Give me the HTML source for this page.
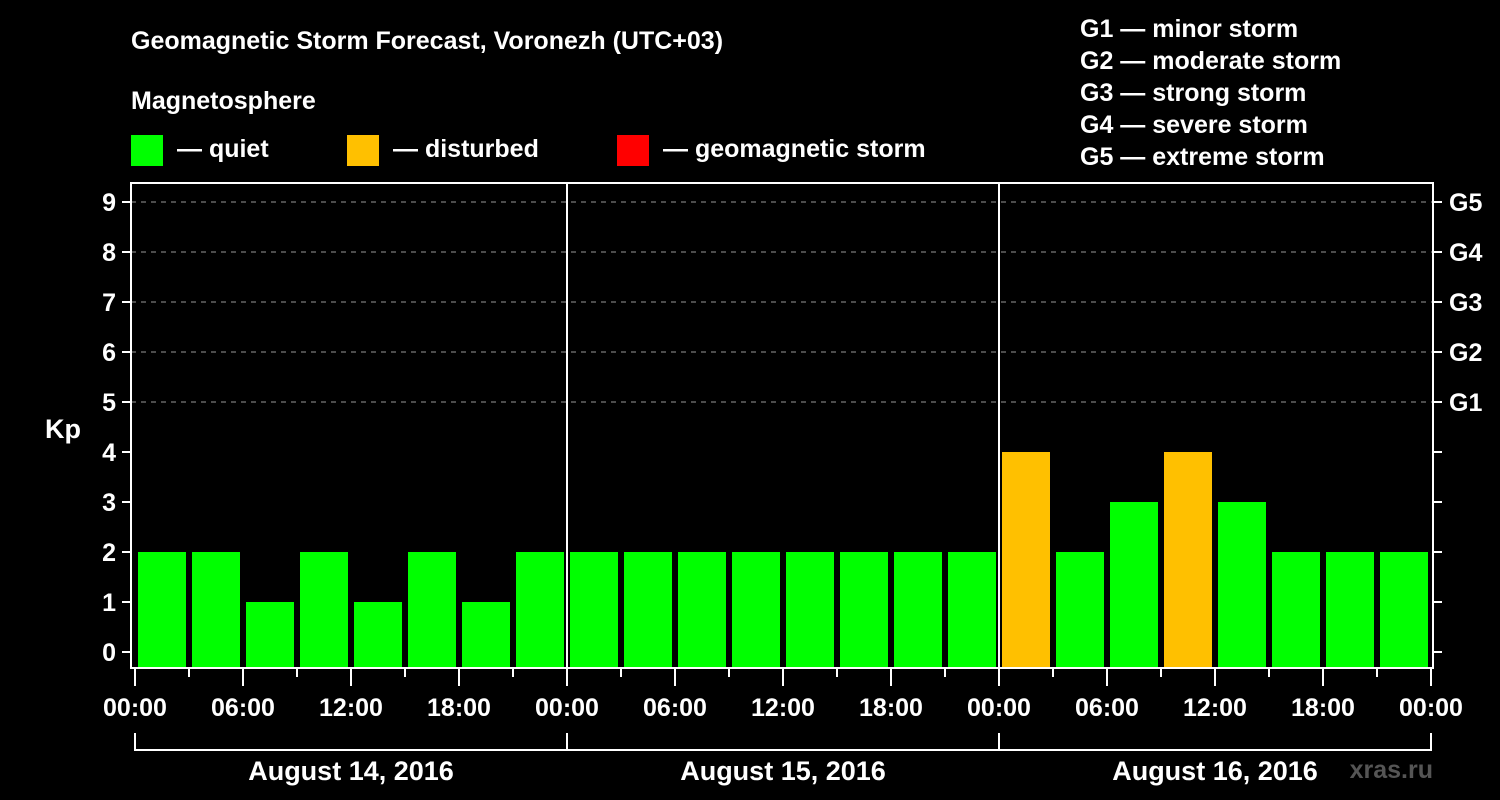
<!DOCTYPE html>
<html><head><meta charset="utf-8"><style>
html,body{margin:0;padding:0;background:#000;}
svg{display:block;font-family:"Liberation Sans",Arial,sans-serif;font-weight:bold;}
</style></head><body>
<svg id="c" width="1500" height="800" viewBox="0 0 1500 800">
<text x="131" y="49" fill="#fff" font-size="25">Geomagnetic Storm Forecast, Voronezh (UTC+03)</text>
<text x="131" y="109" fill="#fff" font-size="25">Magnetosphere</text>
<g><rect x="131" y="135" width="32" height="31" fill="#00ff00"/><text x="177" y="157" fill="#fff" font-size="25">— quiet</text></g>
<g><rect x="347" y="135" width="32" height="31" fill="#ffc000"/><text x="393" y="157" fill="#fff" font-size="25">— disturbed</text></g>
<g><rect x="617" y="135" width="32" height="31" fill="#ff0000"/><text x="663" y="157" fill="#fff" font-size="25">— geomagnetic storm</text></g>
<g fill="#fff" font-size="25">
<text x="1080" y="37">G1 — minor storm</text>
<text x="1080" y="69">G2 — moderate storm</text>
<text x="1080" y="101">G3 — strong storm</text>
<text x="1080" y="133">G4 — severe storm</text>
<text x="1080" y="165">G5 — extreme storm</text>
</g>
<text x="63" y="438" fill="#fff" font-size="27" text-anchor="middle">Kp</text>
<text x="1433" y="778" fill="#555" font-size="25" text-anchor="end">xras.ru</text>
<g id="plot"></g>
</svg>
<script>
const kpValues = [2,2,1,2,1,2,1,2, 2,2,2,2,2,2,2,2, 4,2,3,4,3,2,2,2];
const dayLabels = ["August 14, 2016","August 15, 2016","August 16, 2016"];
const hourLabels = ["00:00","06:00","12:00","18:00"];
const gLabels = ["G1","G2","G3","G4","G5"];
const yTicks = [0,1,2,3,4,5,6,7,8,9];

const NS="http://www.w3.org/2000/svg";
const g=document.getElementById('plot');
const L=131,R=1433,T=183,B=668,X0=135,PXH=18;
const y=v=>652-v*50;
const x=h=>X0+h*PXH;
function el(tag,attrs,parent){const e=document.createElementNS(NS,tag);for(const k in attrs)e.setAttribute(k,attrs[k]);(parent||g).appendChild(e);return e;}
function color(v){return v>=5?'#ff0000':(v>=4?'#ffc000':'#00ff00');}

yTicks.forEach(v=>{
  if(v>=5){const d=el('line',{x1:L,x2:R,y1:y(v),y2:y(v),stroke:'#999','stroke-width':1,'stroke-dasharray':'5,5'});
    
    }
  const t=el('line',{x1:L-9,x2:L,y1:y(v),y2:y(v),stroke:'#fff','stroke-width':2});
  
  
  const rt=el('line',{x1:R,x2:R+9,y1:y(v),y2:y(v),stroke:'#fff','stroke-width':2});
  
  
  const lb=el('text',{x:L-15,y:y(v)+9,fill:'#fff','font-size':25,'text-anchor':'end'});
  lb.textContent=v;
  
  
});
gLabels.forEach((s,i)=>{
  const t=el('text',{x:R+16,y:y(i+5)+9,fill:'#fff','font-size':25});
  t.textContent=s;
  
  
});
kpValues.forEach((v,i)=>{
  const r=el('rect',{x:x(i*3)+3,y:y(v),width:48,height:B-y(v),fill:color(v)});
  
  
});
// frame
const f=el('rect',{x:L,y:T,width:R-L,height:B-T,fill:'none',stroke:'#fff','stroke-width':2});


for(let d=1;d<dayLabels.length;d++){
  const s=el('line',{x1:x(d*24),x2:x(d*24),y1:T,y2:B,stroke:'#fff','stroke-width':2});
  
  
}
for(let h=0;h<=24*dayLabels.length;h+=3){
  const long=h%6===0;
  const t=el('line',{x1:x(h),x2:x(h),y1:B,y2:B+(long?18:9),stroke:'#fff','stroke-width':2});
  
  
  if(long){
    const lb=el('text',{x:x(h),y:716,fill:'#fff','font-size':25,'text-anchor':'middle'});
    lb.textContent=hourLabels[(h/6)%4];
    
    
  }
}
dayLabels.forEach((s,d)=>{
  const a=x(d*24),b=x((d+1)*24);
  const br=el('path',{d:`M${a} 733V750H${b}V733`,fill:'none',stroke:'#fff','stroke-width':2});
  
  
  const t=el('text',{x:(a+b)/2,y:780,fill:'#fff','font-size':27,'text-anchor':'middle'});
  t.textContent=s;
  
  
});
</script>
</body></html>
